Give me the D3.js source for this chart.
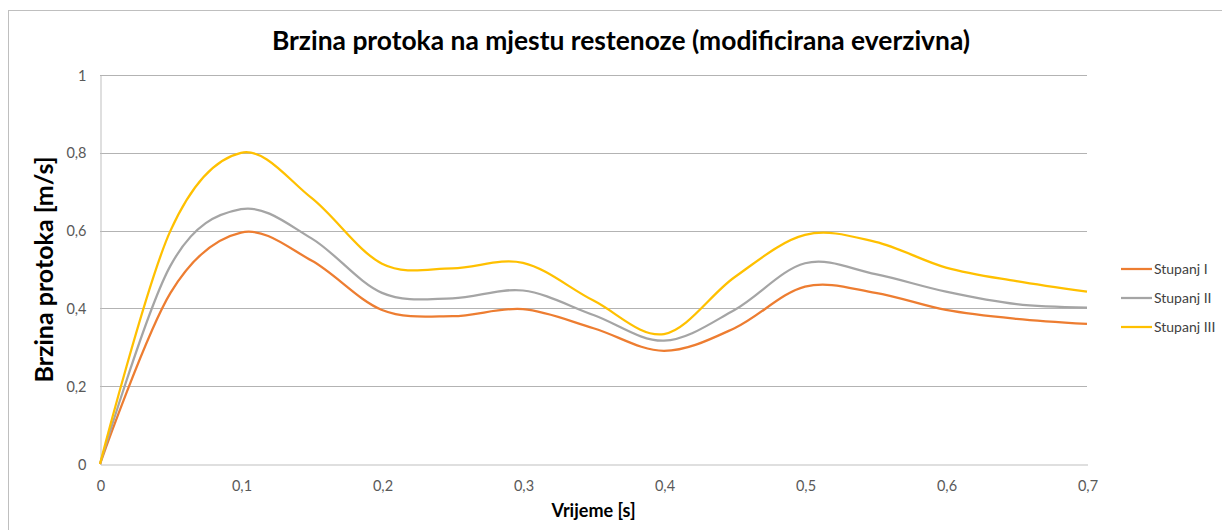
<!DOCTYPE html>
<html>
<head>
<meta charset="utf-8">
<script src="https://cdn.jsdelivr.net/npm/d3@7"></script>
<style>
  body { margin: 0; background: #fff; }
  svg { display: block; font-family: Lato, "Open Sans", sans-serif; }
</style>
</head>
<body>
<svg id="chart" width="1222" height="530"></svg>
<script>
// time points (s)
const times = [0, 0.05, 0.1, 0.15, 0.2, 0.25, 0.3, 0.35, 0.4, 0.45, 0.5, 0.55, 0.6, 0.65, 0.7];

const stupanj1 = [0, 0.44, 0.595, 0.523, 0.396, 0.38, 0.398, 0.349, 0.291, 0.349, 0.456, 0.44, 0.396, 0.373, 0.36];
const stupanj2 = [0, 0.51, 0.655, 0.58, 0.44, 0.426, 0.446, 0.383, 0.317, 0.396, 0.516, 0.488, 0.443, 0.411, 0.402];
const stupanj3 = [0, 0.6, 0.80, 0.684, 0.515, 0.503, 0.517, 0.42, 0.334, 0.48, 0.589, 0.571, 0.505, 0.47, 0.443];

const seriesNames = ["Stupanj I", "Stupanj II", "Stupanj III"];
const seriesColors = ["#ED7D31", "#A5A5A5", "#FFC000"];
const xTicks = [0, 0.1, 0.2, 0.3, 0.4, 0.5, 0.6, 0.7];
const yTicks = [0, 0.2, 0.4, 0.6, 0.8, 1];

const allSeries = [stupanj1, stupanj2, stupanj3];

const svg = d3.select("#chart");
const margin = { top: 75, right: 135, bottom: 66, left: 100 };
const width = 1222, height = 530;

// outer chart border (cropped on right/bottom like the screenshot)
svg.append("rect")
  .attr("x", 8.5).attr("y", 10.5)
  .attr("width", 1230).attr("height", 540)
  .attr("fill", "none")
  .attr("stroke", "#bfbfbf");

const x = d3.scaleLinear().domain([0, 0.7]).range([margin.left, width - margin.right]);
const y = d3.scaleLinear().domain([0, 1]).range([height - margin.bottom, margin.top]);

const fmt = d => String(d).replace(".", ",");

// gridlines
svg.append("g")
  .selectAll("line")
  .data(yTicks.slice(1))
  .enter()
  .append("line")
  .attr("x1", x(0)).attr("x2", x(0.7))
  .attr("y1", d => Math.round(y(d)) + 0.5).attr("y2", d => Math.round(y(d)) + 0.5)
  .attr("stroke", "#b3b3b3");

// axes
const yAxis = svg.append("g")
  .attr("transform", `translate(${x(0) + 0.5},0.5)`)
  .call(d3.axisLeft(y).tickValues(yTicks).tickFormat(fmt).tickSize(0).tickPadding(14));
const xAxis = svg.append("g")
  .attr("transform", `translate(0.5,${Math.round(y(0)) + 0.5})`)
  .call(d3.axisBottom(x).tickValues(xTicks).tickFormat(fmt).tickSize(0).tickPadding(16));

[yAxis, xAxis].forEach(function (g) {
  g.select(".domain").attr("stroke", "#bfbfbf");
  g.selectAll("text")
    .attr("fill", "#595959")
    .style("font-size", "14.5px")
    .style("font-family", "Lato, sans-serif");
});

// lines (Excel-style smoothing)
const line = d3.line()
  .x((d, i) => x(times[i]))
  .y(d => y(d))
  .curve(d3.curveCardinal.tension(0));

svg.append("g")
  .selectAll("path")
  .data(allSeries)
  .enter()
  .append("path")
  .attr("d", line)
  .attr("fill", "none")
  .attr("stroke", (d, i) => seriesColors[i])
  .attr("stroke-width", 2.25)
  .attr("stroke-linejoin", "round");

// title
svg.append("text")
  .attr("x", 621).attr("y", 50)
  .attr("text-anchor", "middle")
  .style("font-size", "26.4px")
  .style("font-weight", "bold")
  .attr("fill", "#000")
  .text("Brzina protoka na mjestu restenoze (modificirana everzivna)");

// axis titles
svg.append("text")
  .attr("transform", `translate(53,${(y(0) + y(1)) / 2}) rotate(-90)`)
  .attr("text-anchor", "middle")
  .style("font-size", "25px")
  .style("font-weight", "bold")
  .attr("fill", "#000")
  .text("Brzina protoka [m/s]");

svg.append("text")
  .attr("x", (x(0) + x(0.7)) / 2).attr("y", 517)
  .attr("text-anchor", "middle")
  .style("font-size", "18px")
  .style("font-weight", "bold")
  .attr("fill", "#000")
  .text("Vrijeme [s]");

// legend
const legend = svg.append("g");
seriesNames.forEach(function (name, i) {
  const ly = 269 + i * 29;
  legend.append("line")
    .attr("x1", 1121).attr("x2", 1152)
    .attr("y1", ly).attr("y2", ly)
    .attr("stroke", seriesColors[i])
    .attr("stroke-width", 2.25);
  legend.append("text")
    .attr("x", 1154).attr("y", ly + 5)
    .style("font-size", "14px")
    .attr("fill", "#404040")
    .text(name);
});
</script>
</body>
</html>
